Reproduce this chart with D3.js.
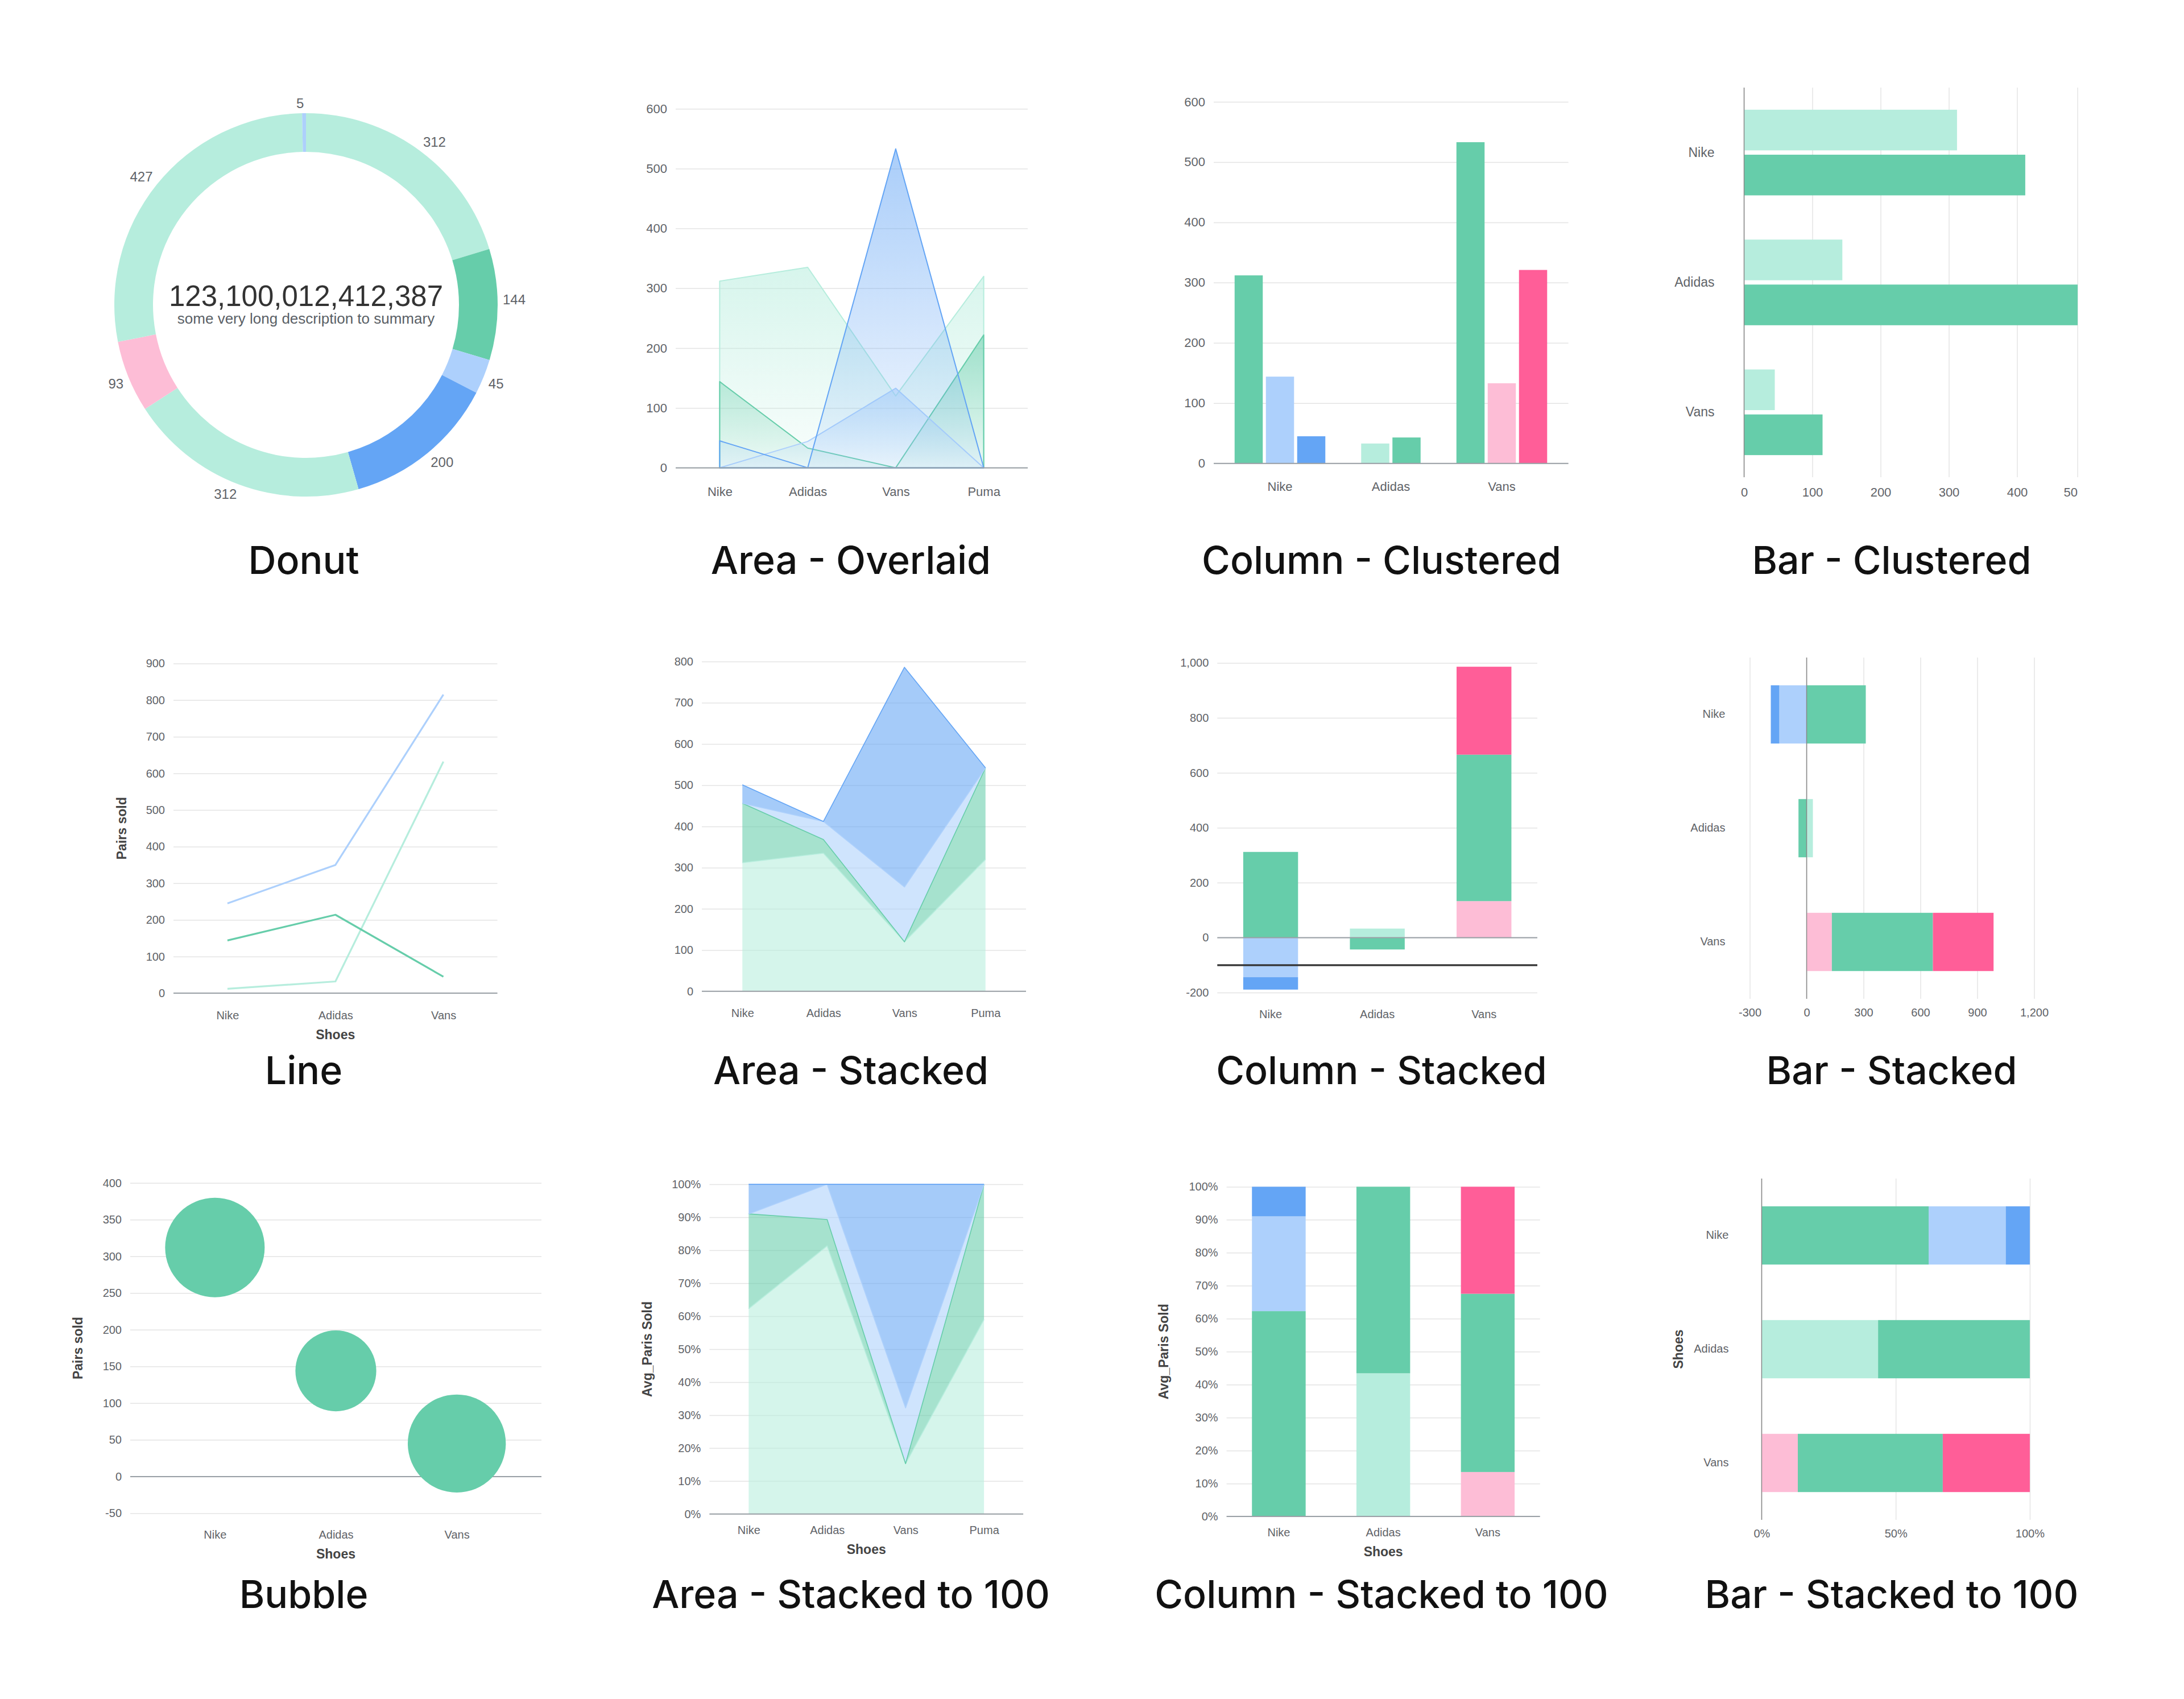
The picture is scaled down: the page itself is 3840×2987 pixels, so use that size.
<!DOCTYPE html>
<html>
<head>
<meta charset="utf-8">
<script src="https://cdn.jsdelivr.net/npm/d3@7"></script>
<style>
  body { margin: 0; background: #fff; }
  svg { display: block; }
</style>
</head>
<body>
<script>
var shoe_names      = ["Nike", "Adidas", "Vans"];
var shoe_names_area = ["Nike", "Adidas", "Vans", "Puma"];

// donut, clockwise from 12 o'clock
var donut_values      = [312, 144, 45, 200, 312, 93, 427, 5];
var donut_series      = ["A", "B", "C", "D", "A", "E", "A", "C"];
var donut_total_text  = "123,100,012,412,387";
var donut_description = "some very long description to summary";

// areas: Nike, Adidas, Vans, Puma
var area_A = [312, 335, 120, 320];
var area_B = [144, 33, 0, 222];
var area_C = [0, 44, 133, 0];
var area_D = [45, 0, 533, 0];

// clustered columns: Nike, Adidas, Vans (0 = no column)
var column_A = [0, 33, 0];
var column_B = [312, 43, 533];
var column_C = [144, 0, 0];
var column_D = [45, 0, 0];
var column_E = [0, 0, 133];
var column_F = [0, 0, 321];

// stacked columns / bars, signed
var stack_A = [0, 33, 0];
var stack_B = [312, -43, 533];
var stack_C = [-144, 0, 0];
var stack_D = [-45, 0, 0];
var stack_E = [0, 0, 133];
var stack_F = [0, 0, 320];
var stack_order     = ["A", "E", "B", "C", "D", "F"];
var stack_reference = -100;

// clustered bars
var bar_A = [312, 144, 45];
var bar_B = [412, 500, 115];

// line
var line_A = [12, 32, 632];
var line_B = [144, 214, 45];
var line_C = [245, 350, 815];

// bubble
var bubble_values = [312, 144, 45];
var bubble_sizes  = [100, 66, 97];

// ticks
var ticks_area_overlaid    = [0, 100, 200, 300, 400, 500, 600];
var ticks_column_clustered = [0, 100, 200, 300, 400, 500, 600];
var ticks_bar_clustered    = [0, 100, 200, 300, 400];
var tick_bar_clustered_end = "50";
var ticks_line             = [0, 100, 200, 300, 400, 500, 600, 700, 800, 900];
var ticks_area_stacked     = [0, 100, 200, 300, 400, 500, 600, 700, 800];
var ticks_column_stacked   = [-200, 0, 200, 400, 600, 800, 1000];
var ticks_bar_stacked      = [-300, 0, 300, 600, 900, 1200];
var ticks_bubble           = [-50, 0, 50, 100, 150, 200, 250, 300, 350, 400];
var ticks_percent          = [0, 0.1, 0.2, 0.3, 0.4, 0.5, 0.6, 0.7, 0.8, 0.9, 1];
var ticks_bar_percent      = [0, 0.5, 1];

var chart_titles = [
  "Donut", "Area - Overlaid", "Column - Clustered", "Bar - Clustered",
  "Line", "Area - Stacked", "Column - Stacked", "Bar - Stacked",
  "Bubble", "Area - Stacked to 100", "Column - Stacked to 100", "Bar - Stacked to 100"
];
var title_pairs_sold = "Pairs sold";
var title_avg_pairs  = "Avg_Paris Sold";
var title_shoes      = "Shoes";

var color_of = {A: "#b6eddd", B: "#66cdaa", C: "#add0fc", D: "#64a5f5", E: "#fdbdd6", F: "#ff5e98"};
var axis_font  = "'Liberation Sans', Arial, sans-serif";
var title_font = "Inter, 'Noto Sans', sans-serif";
var tick_color = "#5f6368";

var locale_plain = d3.formatLocale({decimal: ".", thousands: ",", grouping: [3], currency: ["$", ""], minus: "-"});
var fmt_comma = locale_plain.format(",");
var fmt_pct   = locale_plain.format(".0%");

var svg = d3.select("body").append("svg").attr("width", 3840).attr("height", 2987);
svg.append("rect").attr("width", 3840).attr("height", 2987).attr("fill", "#fff");
var defs = svg.append("defs");

function rows_of (arrays, names) {
  return names.map(function (name, i) {
    var row = {name: name};
    Object.keys(arrays).forEach(function (k) { row[k] = arrays[k][i]; });
    return row;
  });
}

function style_axis (axis, font_size) {
  axis.select(".domain").remove();
  axis.selectAll(".tick line").attr("stroke", "#e4e4e4").attr("stroke-width", 1.5);
  axis.selectAll(".tick text")
    .attr("fill", tick_color)
    .style("font-size", font_size + "px")
    .style("font-family", axis_font);
  return axis;
}

function y_grid (g, y, x0, x1, ticks, fmt, font_size) {
  var axis = g.append("g")
    .attr("transform", "translate(" + x0 + ",0)")
    .call(d3.axisLeft(y).tickValues(ticks).tickFormat(fmt).tickSize(-(x1 - x0)).tickPadding(15));
  return style_axis(axis, font_size);
}

function x_grid (g, x, y0, y1, ticks, fmt, font_size, pad) {
  var axis = g.append("g")
    .attr("transform", "translate(0," + y1 + ")")
    .call(d3.axisBottom(x).tickValues(ticks).tickFormat(fmt).tickSize(-(y1 - y0)).tickPadding(pad));
  return style_axis(axis, font_size);
}

function x_labels (g, x, y0, pad, font_size) {
  var axis = g.append("g")
    .attr("transform", "translate(0," + y0 + ")")
    .call(d3.axisBottom(x).tickSize(0).tickPadding(pad));
  return style_axis(axis, font_size);
}

function y_labels (g, y, x0, pad, font_size) {
  var axis = g.append("g")
    .attr("transform", "translate(" + x0 + ",0)")
    .call(d3.axisLeft(y).tickSize(0).tickPadding(pad));
  return style_axis(axis, font_size);
}

function rule (g, x1, y1, x2, y2, color, width) {
  g.append("line")
    .attr("x1", x1).attr("y1", y1).attr("x2", x2).attr("y2", y2)
    .attr("stroke", color).attr("stroke-width", width);
}

function axis_title (g, text, x, y, rotate) {
  g.append("text")
    .attr("transform", "translate(" + x + "," + y + ")" + (rotate ? " rotate(-90)" : ""))
    .attr("text-anchor", "middle")
    .attr("dy", rotate ? "0.35em" : 0)
    .style("font-family", axis_font)
    .style("font-weight", "bold")
    .style("font-size", "23px")
    .attr("fill", "#444")
    .text(text);
}

function draw_donut () {
  var cx = 538, cy = 536, r_outer = 337, r_inner = 269, r_label = 346;
  var g = svg.append("g").attr("transform", "translate(" + cx + "," + cy + ")");
  var arcs = d3.pie().sort(null).value(function (d) { return d; })(donut_values);
  var arc = d3.arc().innerRadius(r_inner).outerRadius(r_outer);
  var mid = function (d) { return (d.startAngle + d.endAngle) / 2; };

  g.selectAll("path").data(arcs).enter().append("path")
    .attr("d", arc)
    .attr("fill", function (d, i) { return color_of[donut_series[i]]; });

  // labels sit above the anchor on the upper half, below it on the lower half
  g.selectAll("text.label").data(arcs).enter().append("text")
    .attr("class", "label")
    .attr("x", function (d) { return r_label * Math.sin(mid(d)); })
    .attr("y", function (d) { return -r_label * Math.cos(mid(d)); })
    .attr("dy", function (d) { return Math.cos(mid(d)) >= 0 ? "0em" : "0.71em"; })
    .attr("text-anchor", function (d) { return Math.sin(mid(d)) >= 0 ? "start" : "end"; })
    .style("font-family", axis_font)
    .style("font-size", "24px")
    .attr("fill", tick_color)
    .text(function (d) { return d.value; });

  g.append("text")
    .attr("y", 2)
    .attr("text-anchor", "middle")
    .style("font-family", axis_font)
    .style("font-size", "51px")
    .attr("fill", "#333")
    .text(donut_total_text);
  g.append("text")
    .attr("y", 33)
    .attr("text-anchor", "middle")
    .style("font-family", axis_font)
    .style("font-size", "26px")
    .attr("fill", "#5a5f66")
    .text(donut_description);
}

function draw_area_overlaid () {
  var x0 = 1188, x1 = 1807;
  var g = svg.append("g");
  var x = d3.scalePoint().domain(shoe_names_area).range([x0, x1]).padding(0.5);
  var y = d3.scaleLinear().domain([0, 600]).range([822.4, 191.2]);
  y_grid(g, y, x0, x1, ticks_area_overlaid, fmt_comma, 22);

  var series = {A: area_A, B: area_B, C: area_C, D: area_D};
  Object.keys(series).forEach(function (key) {
    var grad = defs.append("linearGradient")
      .attr("id", "overlaid_" + key)
      .attr("x1", 0).attr("y1", 0).attr("x2", 0).attr("y2", 1);
    grad.append("stop").attr("offset", "0%").attr("stop-color", color_of[key]).attr("stop-opacity", 0.55);
    grad.append("stop").attr("offset", "100%").attr("stop-color", color_of[key]).attr("stop-opacity", 0.08);

    var area = d3.area()
      .x(function (d, i) { return x(shoe_names_area[i]); })
      .y0(y(0))
      .y1(function (d) { return y(d); });
    g.append("path")
      .datum(series[key])
      .attr("d", area)
      .attr("fill", "url(#overlaid_" + key + ")")
      .attr("stroke", color_of[key])
      .attr("stroke-width", 2)
      .attr("stroke-linejoin", "round");
  });

  rule(g, x0, y(0), x1, y(0), "#9aa0a6", 2);
  x_labels(g, x, y(0), 34, 22);
}

function draw_column_clustered () {
  var x0 = 2134, x1 = 2757.6, bar_w = 49.5, bar_gap = 5.5;
  var g = svg.append("g");
  var x = d3.scaleBand().domain(shoe_names).range([2153, 2738]);
  var y = d3.scaleLinear().domain([0, 600]).range([814.7, 179]);
  y_grid(g, y, x0, x1, ticks_column_clustered, fmt_comma, 22);

  var series = {A: column_A, B: column_B, C: column_C, D: column_D, E: column_E, F: column_F};
  shoe_names.forEach(function (shoe, i) {
    var bars = Object.keys(series)
      .filter(function (k) { return series[k][i] !== 0; })
      .map(function (k) { return {key: k, value: series[k][i]}; });
    var total = bars.length * bar_w + (bars.length - 1) * bar_gap;
    var start = x(shoe) + x.bandwidth() / 2 - total / 2;
    g.selectAll(null).data(bars).enter().append("rect")
      .attr("x", function (d, j) { return start + j * (bar_w + bar_gap); })
      .attr("y", function (d) { return y(d.value); })
      .attr("width", bar_w)
      .attr("height", function (d) { return y(0) - y(d.value); })
      .attr("fill", function (d) { return color_of[d.key]; });
  });

  rule(g, x0, y(0), x1, y(0), "#9aa0a6", 2);
  x_labels(g, x, y(0), 33, 22);
}

function draw_bar_clustered () {
  var y0 = 154, y1 = 839, clip_right = 3653, bar_h = 71.5, bar_gap = 7.6;
  var g = svg.append("g");
  var x = d3.scaleLinear().domain([0, 500]).range([3066.5, 3666.5]);
  var y = d3.scaleBand().domain(shoe_names).range([y0, y1]);

  defs.append("clipPath").attr("id", "bar_clustered_clip")
    .append("rect").attr("x", x(0) - 5).attr("y", y0).attr("width", clip_right - x(0) + 5).attr("height", y1 - y0);

  x_grid(g, x, y0, y1, ticks_bar_clustered, fmt_comma, 22, 18);
  rule(g, clip_right, y0, clip_right, y1, "#e4e4e4", 1.5);
  g.append("text")
    .attr("x", clip_right)
    .attr("y", y1 + 18)
    .attr("dy", "0.71em")
    .attr("text-anchor", "end")
    .style("font-family", axis_font)
    .style("font-size", "22px")
    .attr("fill", tick_color)
    .text(tick_bar_clustered_end);

  var plot = g.append("g").attr("clip-path", "url(#bar_clustered_clip)");
  var series = {A: bar_A, B: bar_B};
  shoe_names.forEach(function (shoe, i) {
    var keys = Object.keys(series);
    var total = keys.length * bar_h + (keys.length - 1) * bar_gap;
    var start = y(shoe) + y.bandwidth() / 2 - total / 2;
    plot.selectAll(null).data(keys).enter().append("rect")
      .attr("x", x(0))
      .attr("y", function (k, j) { return start + j * (bar_h + bar_gap); })
      .attr("width", function (k) { return x(series[k][i]) - x(0); })
      .attr("height", bar_h)
      .attr("fill", function (k) { return color_of[k]; });
  });

  rule(g, x(0), y0, x(0), y1, "#888", 1.5);
  y_labels(g, y, x(0), 52, 23);
}

function draw_line () {
  var x0 = 305, x1 = 874.5;
  var g = svg.append("g");
  var x = d3.scalePoint().domain(shoe_names).range([x0, x1]).padding(0.5);
  var y = d3.scaleLinear().domain([0, 900]).range([1746.1, 1166.4]);
  y_grid(g, y, x0, x1, ticks_line, fmt_comma, 20);
  rule(g, x0, y(0), x1, y(0), "#9aa0a6", 2);

  var line = d3.line()
    .x(function (d, i) { return x(shoe_names[i]); })
    .y(function (d) { return y(d); });
  var series = {A: line_A, C: line_C, B: line_B};
  Object.keys(series).forEach(function (key) {
    g.append("path")
      .datum(series[key])
      .attr("d", line)
      .attr("fill", "none")
      .attr("stroke", color_of[key])
      .attr("stroke-width", 3.2)
      .attr("stroke-linejoin", "round");
  });

  x_labels(g, x, y(0), 32, 20);
  axis_title(g, title_shoes, (x0 + x1) / 2, 1826.6, false);
  axis_title(g, title_pairs_sold, 213.8, (y(0) + y(900)) / 2, true);
}

function draw_area_stacked (percent) {
  var x0 = percent ? 1247.4 : 1234, x1 = percent ? 1799.1 : 1804;
  var g = svg.append("g");
  var x = d3.scalePoint().domain(shoe_names_area).range([x0, x1]).padding(0.5);
  var y = percent
    ? d3.scaleLinear().domain([0, 1]).range([2661.8, 2082.1])
    : d3.scaleLinear().domain([0, 800]).range([1742.8, 1163]);
  y_grid(g, y, x0, x1, percent ? ticks_percent : ticks_area_stacked, percent ? fmt_pct : fmt_comma, 20);

  var rows = rows_of({A: area_A, B: area_B, C: area_C, D: area_D}, shoe_names_area);
  var stack = d3.stack().keys(["A", "B", "C", "D"]);
  if (percent) stack.offset(d3.stackOffsetExpand);
  var layers = stack(rows);

  var area = d3.area()
    .x(function (d) { return x(d.data.name); })
    .y0(function (d) { return y(d[0]); })
    .y1(function (d) { return y(d[1]); });
  var top = d3.line()
    .x(function (d) { return x(d.data.name); })
    .y(function (d) { return y(d[1]); });

  layers.forEach(function (layer) {
    g.append("path").datum(layer).attr("d", area)
      .attr("fill", color_of[layer.key]).attr("fill-opacity", 0.58);
  });
  layers.forEach(function (layer) {
    g.append("path").datum(layer).attr("d", top)
      .attr("fill", "none").attr("stroke", color_of[layer.key]).attr("stroke-width", 1.6)
      .attr("stroke-linejoin", "round");
  });

  rule(g, x0, y(0), x1, y(0), "#9aa0a6", 2);
  x_labels(g, x, y(0), percent ? 21 : 31, 20);
  if (percent) {
    axis_title(g, title_shoes, (x0 + x1) / 2, 2732, false);
    axis_title(g, title_avg_pairs, 1137.5, (y(0) + y(1)) / 2, true);
  }
}

function stack_rows (absolute) {
  var arrays = {A: stack_A, B: stack_B, C: stack_C, D: stack_D, E: stack_E, F: stack_F};
  if (absolute) {
    Object.keys(arrays).forEach(function (k) { arrays[k] = arrays[k].map(Math.abs); });
  }
  return rows_of(arrays, shoe_names);
}

function draw_column_stacked (percent) {
  var x0 = percent ? 2156.6 : 2140.3, x1 = percent ? 2707.7 : 2703;
  var g = svg.append("g");
  var x = d3.scaleBand().domain(shoe_names).range([x0, x1]).paddingInner(0.486).paddingOuter(0.243);
  var y = percent
    ? d3.scaleLinear().domain([0, 1]).range([2666.1, 2086.4])
    : d3.scaleLinear().domain([-200, 1000]).range([1745.1, 1165.4]);
  y_grid(g, y, x0, x1, percent ? ticks_percent : ticks_column_stacked, percent ? fmt_pct : fmt_comma, 20);

  var stack = d3.stack().keys(stack_order)
    .offset(percent ? d3.stackOffsetExpand : d3.stackOffsetDiverging);
  var layers = stack(stack_rows(percent));
  layers.forEach(function (layer) {
    g.selectAll(null).data(layer.filter(function (d) { return d[0] !== d[1]; })).enter().append("rect")
      .attr("x", function (d) { return x(d.data.name); })
      .attr("y", function (d) { return y(Math.max(d[0], d[1])); })
      .attr("width", x.bandwidth())
      .attr("height", function (d) { return Math.abs(y(d[0]) - y(d[1])); })
      .attr("fill", color_of[layer.key]);
  });

  rule(g, x0, y(0), x1, y(0), "#9aa0a6", 2);
  if (percent) {
    x_labels(g, x, y(0), 21, 20);
    axis_title(g, title_shoes, (x0 + x1) / 2, 2736, false);
    axis_title(g, title_avg_pairs, 2045.9, (y(0) + y(1)) / 2, true);
  } else {
    rule(g, x0, y(stack_reference), x1, y(stack_reference), "#333", 3.3);
    x_labels(g, x, y(-200), 31, 20);
  }
}

function draw_bar_stacked (percent) {
  var y0 = percent ? 2072 : 1156, y1 = percent ? 2672 : 1756;
  var g = svg.append("g");
  var x = percent
    ? d3.scaleLinear().domain([0, 1]).range([3097.4, 3568.9])
    : d3.scaleLinear().domain([-300, 1200]).range([3076.5, 3576.5]);
  var y = d3.scaleBand().domain(shoe_names).range([y0, y1]).paddingInner(0.488).paddingOuter(0.244);
  x_grid(g, x, y0, y1, percent ? ticks_bar_percent : ticks_bar_stacked, percent ? fmt_pct : fmt_comma, 20, 17);

  var stack = d3.stack().keys(stack_order)
    .offset(percent ? d3.stackOffsetExpand : d3.stackOffsetDiverging);
  var layers = stack(stack_rows(percent));
  layers.forEach(function (layer) {
    g.selectAll(null).data(layer.filter(function (d) { return d[0] !== d[1]; })).enter().append("rect")
      .attr("x", function (d) { return x(Math.min(d[0], d[1])); })
      .attr("y", function (d) { return y(d.data.name); })
      .attr("width", function (d) { return Math.abs(x(d[1]) - x(d[0])); })
      .attr("height", y.bandwidth())
      .attr("fill", color_of[layer.key]);
  });

  rule(g, x(0), y0, x(0), y1, "#888", 1.5);
  y_labels(g, y, x.range()[0], percent ? 58 : 43, 20);
  if (percent) axis_title(g, title_shoes, 2951, (y0 + y1) / 2, true);
}

function draw_bubble () {
  var x0 = 229, x1 = 952;
  var g = svg.append("g");
  var x = d3.scalePoint().domain(shoe_names).range([x0, x1]).padding(0.7);
  var y = d3.scaleLinear().domain([-50, 400]).range([2660.4, 2079.7]);
  var r = d3.scaleSqrt().domain([0, 100]).range([0, 87.5]);
  y_grid(g, y, x0, x1, ticks_bubble, fmt_comma, 20);
  rule(g, x0, y(0), x1, y(0), "#9aa0a6", 2);

  g.selectAll("circle").data(bubble_values).enter().append("circle")
    .attr("cx", function (d, i) { return x(shoe_names[i]); })
    .attr("cy", function (d) { return y(d); })
    .attr("r", function (d, i) { return r(bubble_sizes[i]); })
    .attr("fill", color_of.B);

  x_labels(g, x, y(-50), 30, 20);
  axis_title(g, title_shoes, x(shoe_names[1]), 2740, false);
  axis_title(g, title_pairs_sold, 136.5, (y(-50) + y(400)) / 2, true);
}

function draw_titles () {
  var title_x = [534, 1496, 2429, 3326];
  var title_y = [1009, 1906, 2827];
  svg.selectAll("text.chart-title").data(chart_titles).enter().append("text")
    .attr("class", "chart-title")
    .attr("x", function (d, i) { return title_x[i % 4]; })
    .attr("y", function (d, i) { return title_y[Math.floor(i / 4)]; })
    .attr("text-anchor", "middle")
    .style("font-family", title_font)
    .style("font-weight", 500)
    .style("font-size", "68px")
    .attr("fill", "#111")
    .text(function (d) { return d; });
}

draw_donut();
draw_area_overlaid();
draw_column_clustered();
draw_bar_clustered();
draw_line();
draw_area_stacked(false);
draw_column_stacked(false);
draw_bar_stacked(false);
draw_bubble();
draw_area_stacked(true);
draw_column_stacked(true);
draw_bar_stacked(true);
draw_titles();
</script>
</body>
</html>
